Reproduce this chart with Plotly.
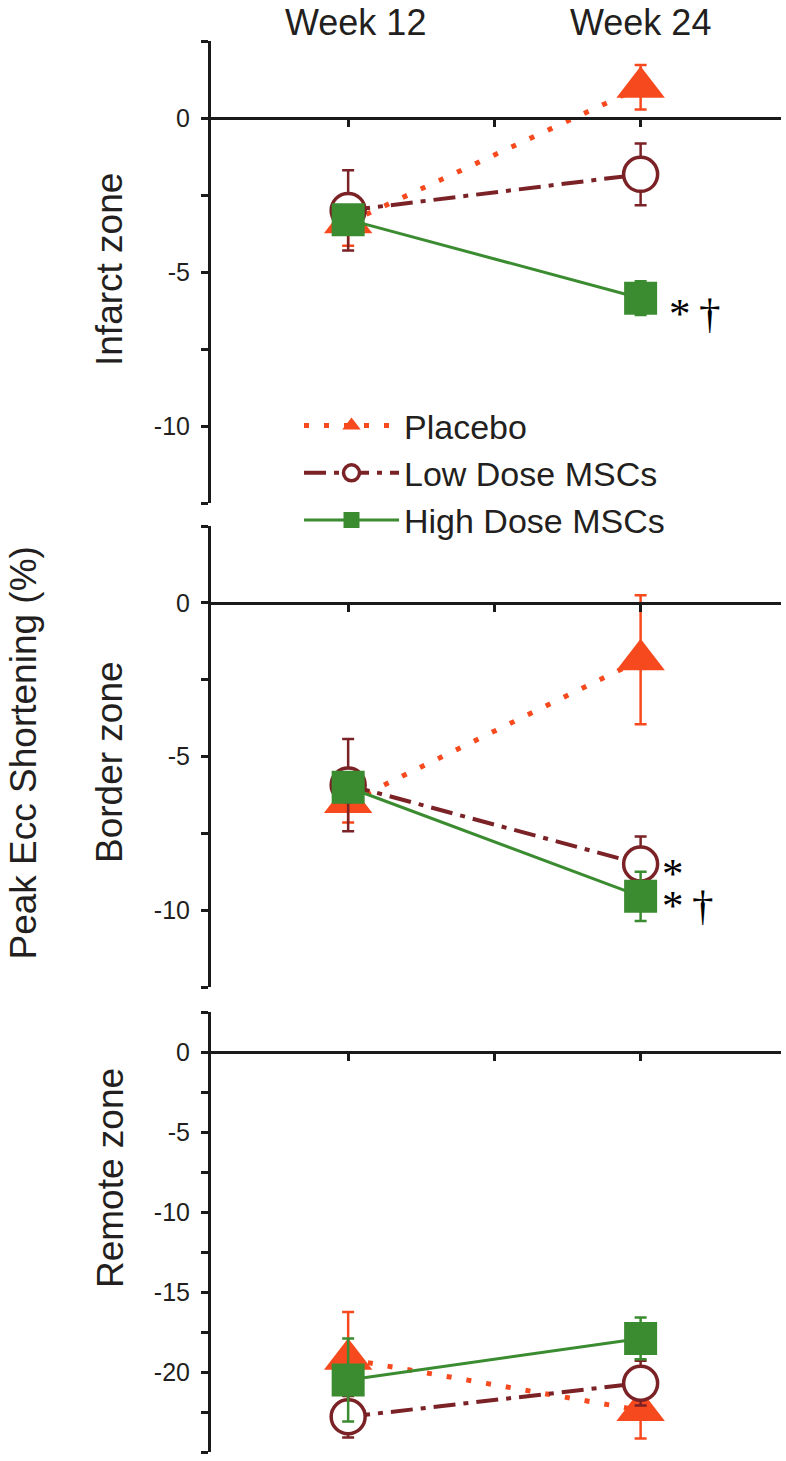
import plotly.graph_objects as go

# ---------------- data ----------------
weeks = ["Week 12", "Week 24"]
week_x = [1, 3]
zones = ["Infarct zone", "Border zone", "Remote zone"]
series_names = ["Placebo", "Low Dose MSCs", "High Dose MSCs"]

infarct_placebo = [-3.4, 1.0]
infarct_placebo_err = [0.75, 0.72]
infarct_low = [-3.0, -1.83]
infarct_low_err = [1.3, 1.0]
infarct_high = [-3.3, -5.85]
infarct_high_err = [0.3, 0.55]

border_placebo = [-6.5, -1.85]
border_placebo_err = [0.65, 2.1]
border_low = [-5.93, -8.5]
border_low_err = [1.5, 0.9]
border_high = [-6.0, -9.55]
border_high_err = [0.3, 0.8]

remote_placebo = [-19.2, -22.4]
remote_placebo_err = [2.95, 1.75]
remote_low = [-22.8, -20.7]
remote_low_err = [1.3, 1.4]
remote_high = [-20.5, -17.9]
remote_high_err = [2.6, 1.3]

y_ranges = [[-12.5, 2.5], [-12.5, 2.5], [-25, 2.5]]
y_ticks = [[0, -5, -10], [0, -5, -10], [0, -5, -10, -15, -20, -25]]

# significance marks: (zone index, series index, week index, text)
sig_marks = [(0, 2, 1, "*\u2009\u2020"), (1, 1, 1, "*"), (1, 2, 1, "*\u2009\u2020")]
sig_shift = [(26, -15), (19, -9), (19, -9)]  # (xshift, yshift) in px

# ---------------- styles ----------------
W, H = 786, 1461
FONT = "Liberation Sans, Arial, Helvetica, sans-serif"
TXT = "#231f20"
colors = ["#F64A1E", "#7B2226", "#3B8B30"]
symbols = ["triangle-up", "circle", "square"]
msizes = [42, 34, 33]
dashes = ["5px,15px", "22px,8px,5px,8px", "solid"]
lwidths = [5, 4, 3]

data = [
    [(infarct_placebo, infarct_placebo_err), (infarct_low, infarct_low_err), (infarct_high, infarct_high_err)],
    [(border_placebo, border_placebo_err), (border_low, border_low_err), (border_high, border_high_err)],
    [(remote_placebo, remote_placebo_err), (remote_low, remote_low_err), (remote_high, remote_high_err)],
]

# panel pixel extents (top, bottom) of the y axes
panel_px = [(41, 503), (526, 987), (1012, 1452)]
x_px = (211, 781)
x_range = [0.062, 3.96]

fig = go.Figure()

for p in range(3):
    xa = "x" if p == 0 else f"x{p+1}"
    ya = "y" if p == 0 else f"y{p+1}"
    for s in range(3):
        vals, errs = data[p][s]
        fig.add_trace(go.Scatter(
            x=week_x, y=vals, xaxis=xa, yaxis=ya,
            name=series_names[s], showlegend=(p == 0), legendgroup=series_names[s],
            mode="lines+markers",
            line=dict(color=colors[s], width=lwidths[s], dash=dashes[s]),
            marker=dict(symbol=symbols[s], size=msizes[s],
                        color="white" if s == 1 else colors[s],
                        line=dict(color=colors[s], width=3.5 if s == 1 else 0)),
            error_y=dict(type="data", array=errs, color=colors[s], thickness=2.5, width=6),
        ))

layout = dict(
    width=W, height=H,
    margin=dict(l=0, r=0, t=0, b=0),
    paper_bgcolor="white", plot_bgcolor="rgba(0,0,0,0)",
    showlegend=True,
    legend=dict(x=299 / W, xanchor="left", y=1 - 397 / H, yanchor="top",
                font=dict(family=FONT, size=34, color=TXT),
                bgcolor="rgba(0,0,0,0)", itemwidth=95, tracegroupgap=0),
    font=dict(family=FONT, color=TXT),
)

for p in range(3):
    top, bot = panel_px[p]
    dom = [1 - bot / H, 1 - top / H]
    r0, r1 = y_ranges[p]
    zero_pos = dom[0] + (0 - r0) / (r1 - r0) * (dom[1] - dom[0])
    xkey = "xaxis" if p == 0 else f"xaxis{p+1}"
    ykey = "yaxis" if p == 0 else f"yaxis{p+1}"
    xa = "x" if p == 0 else f"x{p+1}"
    layout[xkey] = dict(
        domain=[x_px[0] / W, x_px[1] / W], range=x_range,
        anchor="free", position=zero_pos,
        showline=True, linecolor="#1a1a1a", linewidth=3,
        ticks="outside", tickvals=[1, 2, 3], ticklen=7, tickwidth=3, tickcolor="#1a1a1a",
        showticklabels=False, showgrid=False, zeroline=False, fixedrange=True,
    )
    layout[ykey] = dict(
        domain=dom, range=y_ranges[p], anchor=xa,
        showline=True, linecolor="#1a1a1a", linewidth=3,
        ticks="outside", tickvals=y_ticks[p], ticktext=[str(v) for v in y_ticks[p]],
        ticklen=7, tickwidth=3, tickcolor="#1a1a1a",
        minor=dict(dtick=2.5, ticks="outside", ticklen=7, tickwidth=3, tickcolor="#1a1a1a"),
        tickfont=dict(family=FONT, size=25, color=TXT),
        ticklabelstandoff=6,
        showgrid=False, zeroline=False, fixedrange=True,
    )

fig.update_layout(**layout)

# week labels along the top
week_label_px = [355, 640]
for i, wk in enumerate(weeks):
    fig.add_annotation(text=wk, xref="paper", yref="paper",
                       x=week_label_px[i] / W, y=1,
                       xanchor="center", yanchor="top", showarrow=False,
                       font=dict(family=FONT, size=36, color=TXT))

# zone labels
zone_center_px = [270, 762, 1178]
for i, z in enumerate(zones):
    fig.add_annotation(text=z, xref="paper", yref="paper",
                       x=110 / W, y=1 - zone_center_px[i] / H,
                       xanchor="center", yanchor="middle", showarrow=False, textangle=-90,
                       font=dict(family=FONT, size=37, color=TXT))

# y-axis title
fig.add_annotation(text="Peak Ecc Shortening (%)", xref="paper", yref="paper",
                   x=0, y=1 - 753 / H,
                   xanchor="left", yanchor="middle", showarrow=False, textangle=-90,
                   font=dict(family=FONT, size=37, color=TXT))

# significance marks, anchored on data points
for k, (p, s, w, txt) in enumerate(sig_marks):
    xa = "x" if p == 0 else f"x{p+1}"
    ya = "y" if p == 0 else f"y{p+1}"
    fig.add_annotation(text=txt, xref=xa, yref=ya, x=week_x[w], y=data[p][s][0][w],
                       xanchor="left", yanchor="middle", showarrow=False,
                       xshift=sig_shift[k][0], yshift=sig_shift[k][1],
                       font=dict(family="Liberation Serif, Times New Roman, serif", size=43, color="black"))

fig.write_html("out.html", config={"displayModeBar": False},
               post_script="document.body.style.margin='0px';")
